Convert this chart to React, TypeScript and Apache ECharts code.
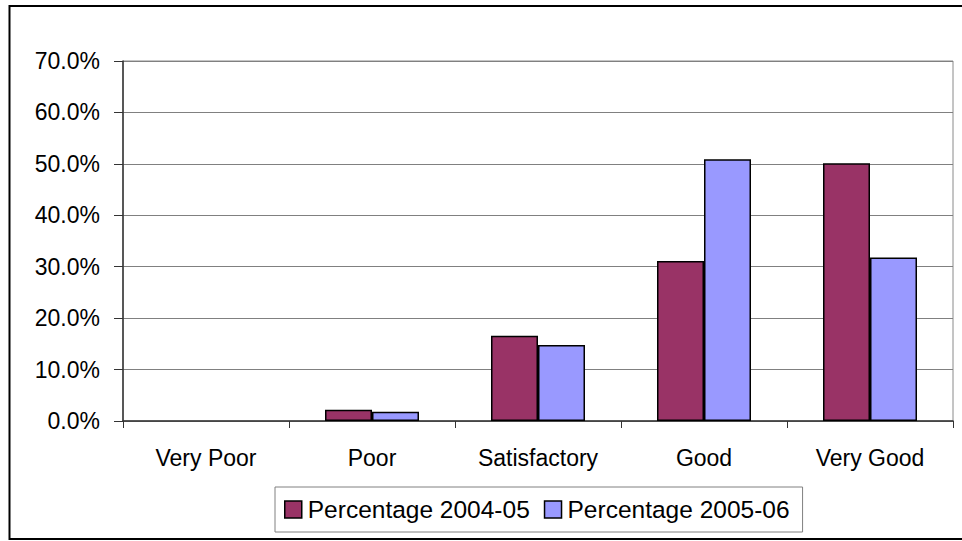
import React, { useEffect, useRef } from "react";
import * as echarts from "echarts";

// Rating categories and the share of responses in each year (percent)
const categories = ["Very Poor", "Poor", "Satisfactory", "Good", "Very Good"];
const seriesNames = ["Percentage 2004-05", "Percentage 2005-06"];
const values2004 = [0, 2.2, 16.6, 31.1, 50.1];
const values2005 = [0, 1.8, 14.8, 50.9, 31.8];
const yTicks = { min: 0, max: 70, interval: 10 };

const FONT = "Arial, 'Liberation Sans', sans-serif";
const colors = ["#993366", "#9999FF"];

// Zero-height bars get no outline so they don't show as a stray line
const toBarData = (vals: number[]) =>
  vals.map((v) => (v === 0 ? { value: v, itemStyle: { borderWidth: 0 } } : v));

export default function App() {
  const ref = useRef<HTMLDivElement>(null);

  useEffect(() => {
    if (!ref.current) return;
    const chart = echarts.init(ref.current, undefined, { renderer: "svg" });
    chart.setOption({
      animation: false,
      backgroundColor: "#ffffff",
      textStyle: { fontFamily: FONT, color: "#000" },
      graphic: [
        {
          type: "polyline",
          shape: { points: [[990, 6], [9.5, 6], [9.5, 539], [990, 539]] },
          style: { fill: "none", stroke: "#000", lineWidth: 2 },
          silent: true,
        },
      ],
      grid: {
        left: 123,
        top: 61,
        width: 830,
        height: 360,
        show: true,
        borderColor: "#8a8a8a",
        borderWidth: 1,
        backgroundColor: "transparent",
      },
      legend: {
        data: seriesNames,
        left: 275,
        top: 487,
        orient: "horizontal",
        padding: [10, 13, 10, 9],
        itemWidth: 17,
        itemHeight: 17,
        itemGap: 14,
        borderColor: "#808080",
        borderWidth: 1,
        icon: "rect",
        itemStyle: { borderColor: "#000", borderWidth: 1.5 },
        textStyle: { fontFamily: FONT, fontSize: 24.5, color: "#000", padding: [0, 0, 0, 1] },
      },
      xAxis: {
        type: "category",
        data: categories,
        boundaryGap: true,
        axisLine: { show: true, lineStyle: { color: "#333", width: 1.5 } },
        axisTick: { show: true, length: 7, lineStyle: { color: "#333", width: 1 } },
        axisLabel: { fontFamily: FONT, fontSize: 23, color: "#000", margin: 25 },
        splitLine: { show: false },
      },
      yAxis: {
        type: "value",
        min: yTicks.min,
        max: yTicks.max,
        interval: yTicks.interval,
        axisLine: { show: true, lineStyle: { color: "#333", width: 1.5 } },
        axisTick: { show: true, length: 9, lineStyle: { color: "#333", width: 1 } },
        axisLabel: {
          fontFamily: FONT,
          fontSize: 23,
          color: "#000",
          margin: 23,
          padding: [0, 0, 4, 0],
          formatter: (v: number) => v.toFixed(1) + "%",
        },
        splitLine: { show: true, lineStyle: { color: "#808080", width: 1 } },
      },
      series: [
        {
          name: seriesNames[0],
          type: "bar",
          data: toBarData(values2004),
          barWidth: 47,
          barGap: "0%",
          itemStyle: { color: colors[0], borderColor: "#000", borderWidth: 1.5 },
        },
        {
          name: seriesNames[1],
          type: "bar",
          data: toBarData(values2005),
          barWidth: 47,
          barGap: "0%",
          itemStyle: { color: colors[1], borderColor: "#000", borderWidth: 1.5 },
        },
      ],
    });
    return () => chart.dispose();
  }, []);

  return (
    <div
      ref={ref}
      style={{ position: "fixed", left: 0, top: 0, width: 962, height: 541, background: "#fff" }}
    />
  );
}
